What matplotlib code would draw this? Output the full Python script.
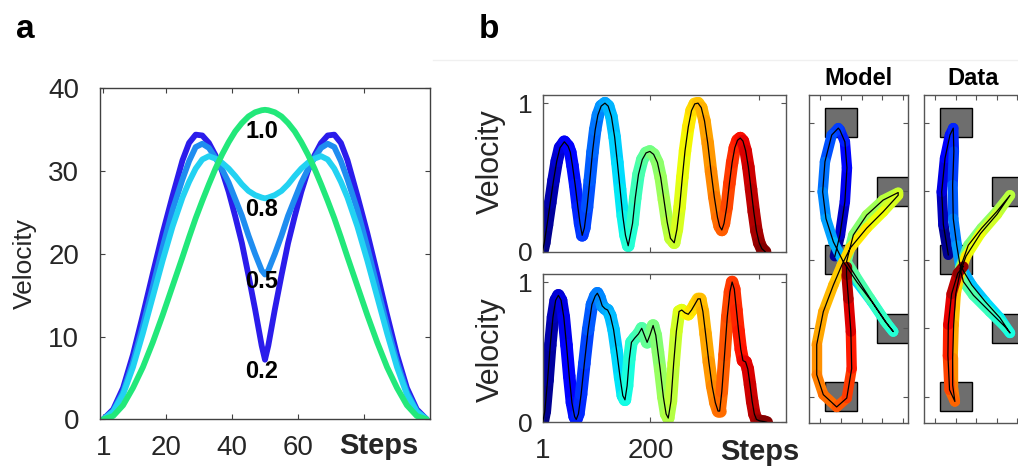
import numpy as np
import matplotlib
matplotlib.use("Agg")
import matplotlib.pyplot as plt
from matplotlib.collections import LineCollection
from matplotlib.patches import Rectangle
from matplotlib.lines import Line2D

plt.rcParams["font.family"] = ["Liberation Sans", "DejaVu Sans"]
TXT = "#262626"

# ---------------- panel a: velocity profiles for 4 parameter values ----------------
STEPS_A = [1, 4, 7, 10, 13, 16, 19, 22, 25, 27, 29, 31, 33, 35, 37, 39, 41, 43, 45, 47, 49, 50,
           51, 53, 55, 57, 59, 61, 63, 65, 67, 69, 71, 73, 75, 78, 81, 84, 87, 90, 93, 96, 99]
VEL_02 = [0, 1.2, 3.8, 7.8, 12.6, 17.6, 22.5, 27.0, 31.3, 33.4, 34.4, 34.3, 33.4, 31.9,
          30.0, 27.5, 24.5, 21.3, 17.4, 13.3, 8.9, 7.2,
          8.9, 13.3, 17.4, 21.3, 24.5, 27.5, 30.0, 31.9, 33.4, 34.3, 34.4, 33.4, 31.3,
          27.0, 22.5, 17.6, 12.6, 7.8, 3.8, 1.2, 0]
VEL_05 = [0, 1.0, 3.3, 6.9, 11.3, 16.0, 20.8, 25.3, 29.0, 31.2, 32.9, 33.3, 32.8, 31.6,
          30.2, 28.6, 26.6, 24.6, 22.2, 20.0, 18.0, 17.5,
          18.0, 20.0, 22.2, 24.6, 26.6, 28.6, 30.2, 31.6, 32.8, 33.3, 32.9, 31.2, 29.0,
          25.3, 20.8, 16.0, 11.3, 6.9, 3.3, 1.0, 0]
VEL_08 = [0, 0.9, 3.0, 6.3, 10.4, 14.8, 19.2, 23.3, 26.8, 28.7, 30.3, 31.4, 31.8, 31.5,
          31.0, 30.3, 29.4, 28.4, 27.6, 27.1, 26.8, 26.7,
          26.8, 27.1, 27.6, 28.4, 29.4, 30.3, 31.0, 31.5, 31.8, 31.4, 30.3, 28.7, 26.8,
          23.3, 19.2, 14.8, 10.4, 6.3, 3.0, 0.9, 0]
VEL_10 = [0, 0.4, 1.7, 3.8, 6.3, 9.3, 12.6, 16.1, 19.6, 22.0, 24.3, 26.4, 28.4, 30.3,
          32.0, 33.5, 34.8, 35.8, 36.6, 37.1, 37.35, 37.4,
          37.35, 37.1, 36.6, 35.8, 34.8, 33.5, 32.0, 30.3, 28.4, 26.4, 24.3, 22.0, 19.6,
          16.1, 12.6, 9.3, 6.3, 3.8, 1.7, 0.4, 0]
CURVES_A = [("0.2", VEL_02, "#2B1CEB", 5.75),
            ("0.5", VEL_05, "#1F8DF0", 16.6),
            ("0.8", VEL_08, "#22D2F2", 25.3),
            ("1.0", VEL_10, "#22E87A", 34.75)]

# ---------------- panel b: velocity profiles (model / data) ----------------
STEPS_MODEL = [1, 4, 9, 15, 21, 27, 33, 41, 48, 52, 56, 61, 66, 70, 74,
               78, 83, 88, 93, 98, 103, 109, 116, 122, 128, 134, 139, 144, 149, 154, 159,
               167, 172, 178, 185, 192, 199, 206, 213, 219, 225, 231, 237, 244,
               249, 254, 259, 264, 270, 276, 282, 288, 294, 300, 306, 312, 318, 324, 328, 332,
               336, 341, 346, 351, 356, 361, 366, 371, 376, 381, 386, 391, 396, 401, 406, 412]
VEL_MODEL = [0.01, 0.06, 0.18, 0.33, 0.48, 0.61, 0.70, 0.74, 0.71, 0.67, 0.58, 0.45, 0.30, 0.19, 0.11,
             0.16, 0.30, 0.48, 0.67, 0.82, 0.92, 0.98, 1.0, 0.98, 0.91, 0.77, 0.60, 0.42, 0.24, 0.11, 0.04,
             0.19, 0.36, 0.52, 0.62, 0.665, 0.675, 0.655, 0.60, 0.50, 0.35, 0.20, 0.09, 0.06,
             0.15, 0.30, 0.50, 0.68, 0.84, 0.95, 0.995, 1.0, 0.97, 0.88, 0.73, 0.54, 0.37, 0.23, 0.17, 0.146,
             0.19, 0.30, 0.46, 0.60, 0.70, 0.75, 0.765, 0.745, 0.68, 0.57, 0.42, 0.27, 0.14, 0.06, 0.02, 0.0]

STEPS_DATA = [1, 5, 10, 15, 20, 25, 30, 35, 40, 45, 50, 55, 60, 63,
              67, 72, 78, 85, 92, 98, 102, 106, 111, 116, 121, 126, 132, 138, 144, 149, 153,
              157, 161, 165, 171, 178, 184, 189, 194, 199, 205, 210, 214, 218, 224, 229, 233,
              238, 243, 248, 253, 258, 264, 270, 276, 282, 288, 292, 297, 302, 308, 314, 320, 325, 328,
              332, 337, 342, 347, 351, 355, 359, 363, 367, 371, 376, 380, 384, 388, 392, 396, 402, 410, 415]
VEL_DATA = [0.0, 0.08, 0.30, 0.55, 0.75, 0.87, 0.905, 0.87, 0.75, 0.55, 0.33, 0.14, 0.04, 0.02,
            0.06, 0.20, 0.42, 0.66, 0.84, 0.90, 0.92, 0.89, 0.83, 0.81, 0.80, 0.76, 0.66, 0.50, 0.32, 0.19, 0.16,
            0.26, 0.45, 0.57, 0.60, 0.63, 0.67, 0.62, 0.57, 0.62, 0.69, 0.62, 0.50, 0.38, 0.18, 0.06, 0.03,
            0.15, 0.42, 0.65, 0.79, 0.80, 0.78, 0.77, 0.80, 0.84, 0.88, 0.88, 0.79, 0.63, 0.43, 0.26, 0.14, 0.08, 0.08,
            0.22, 0.48, 0.75, 0.93, 1.0, 0.95, 0.80, 0.65, 0.52, 0.44, 0.43, 0.38, 0.27, 0.15, 0.06, 0.02, 0.01, 0.005, 0.0]

# ---------------- panel b: hand paths (model / data) ----------------
MODEL_X = [-0.30, -0.05, 0.19, 0.29, 0.19, -0.05, -0.13,
           -0.45, -0.78, -0.89, -0.73, -0.37, 0.11, 0.76, 1.49, 2.14, 2.54,
           2.23, 1.42, 0.69, 0.27, 0.60, 1.25, 2.05, 2.78,
           2.78, 2.05, 1.25, 0.45, 0.04, -0.37, -0.86, -1.18, -1.18, -0.86, -0.21,
           0.28, 0.52, 0.48, 0.36, 0.27, 0.27]
MODEL_Y = [2.05, 2.36, 2.85, 3.34, 3.72, 3.89, 3.92,
           3.82, 3.43, 2.99, 2.60, 2.26, 1.97, 1.68, 1.39, 1.10, 0.95,
           1.07, 1.43, 1.77, 1.97, 2.36, 2.65, 2.87, 2.98,
           2.94, 2.70, 2.46, 2.17, 1.92, 1.63, 1.24, 0.76, 0.32, 0.03, -0.15,
           -0.02, 0.41, 0.95, 1.43, 1.77, 1.90]
MODEL_T = [1, 20, 35, 48, 60, 70, 74,
           80, 92, 103, 113, 122, 130, 138, 146, 153, 159,
           166, 176, 186, 193, 205, 218, 232, 244,
           247, 258, 268, 277, 283, 290, 298, 307, 316, 324, 332,
           342, 355, 370, 385, 400, 412]

DATA_X = [-0.36, -0.60, -0.68, -0.52, -0.28, -0.12,
          -0.09, -0.15, -0.12, 0.05, 0.21, 0.78, 1.43, 2.15, 2.64,
          2.40, 1.66, 0.86, 0.37, 0.21, 0.61, 1.26, 1.99, 2.64,
          2.00, 1.20, 0.50, 0.20, 0.00, -0.10, -0.15, -0.15, -0.04,
          -0.30, -0.38, -0.36, -0.20, 0.10, 0.37]
DATA_Y = [2.07, 2.51, 2.99, 3.48, 3.82, 3.92,
          3.58, 3.09, 2.60, 2.21, 1.92, 1.63, 1.39, 1.15, 0.93,
          1.02, 1.24, 1.48, 1.68, 1.87, 2.21, 2.46, 2.70, 2.94,
          2.66, 2.38, 2.05, 1.80, 1.50, 1.05, 0.56, 0.17, -0.07,
          0.10, 0.60, 1.05, 1.50, 1.80, 1.90]
DATA_T = [1, 15, 30, 45, 56, 63,
          72, 85, 98, 110, 120, 130, 138, 146, 153,
          160, 170, 180, 188, 195, 204, 213, 223, 233,
          245, 258, 270, 280, 290, 300, 310, 320, 327,
          340, 355, 370, 385, 400, 415]

TARGET_X = [0.0, 2.53, 0.0, 2.53, 0.0]
TARGET_Y = [4, 3, 2, 1, 0]


def color_band(ax, x, y, t, lw):
    pts = np.column_stack([x, y])
    segs = np.stack([pts[:-1], pts[1:]], axis=1)
    t = np.asarray(t, dtype=float)
    lc = LineCollection(segs, cmap="jet", norm=plt.Normalize(t[0], t[-1]),
                        linewidths=lw, capstyle="round", joinstyle="round")
    lc.set_array(0.5 * (t[:-1] + t[1:]))
    ax.add_collection(lc)
    ax.plot(x, y, color="black", lw=0.9, zorder=3)


def style_box(ax, color):
    for s in ax.spines.values():
        s.set_color(color)
        s.set_linewidth(1.0)
    ax.tick_params(direction="in", top=True, right=True, length=3.5,
                   width=0.8, color=color, labelcolor=TXT)


fig = plt.figure(figsize=(10.18, 4.66), dpi=100)

# ---------- a ----------
ax = fig.add_axes([0.0982, 0.1002, 0.3242, 0.7103])
for lab, v, c, ty in CURVES_A:
    ax.plot(STEPS_A, v, color=c, lw=4.2, solid_capstyle="round",
            solid_joinstyle="round")
for lab, v, c, ty in CURVES_A:
    ax.text(49, ty, lab, fontsize=17, fontweight="bold", ha="center",
            va="center", color="black")
ax.set_xlim(0, 100)
ax.set_ylim(0, 40)
ax.set_xticks([1, 20, 40, 60, 80])
ax.set_xticklabels(["1", "20", "40", "60", ""])
ax.set_yticks([0, 10, 20, 30, 40])
style_box(ax, "#404040")
ax.tick_params(labelsize=20)
ax.tick_params(axis="x", pad=11)
ax.tick_params(axis="y", pad=15)
ax.set_ylabel("Velocity", fontsize=19, color=TXT)
ax.yaxis.set_label_coords(-0.19, 0.472)
ax.text(0.845, -0.081, "Steps", transform=ax.transAxes, fontsize=21,
        fontweight="bold", ha="center", va="center", color=TXT)

# ---------- b: velocity ----------
ax_top = fig.add_axes([0.5331, 0.4599, 0.2387, 0.3363])
ax_bot = fig.add_axes([0.5331, 0.0938, 0.2387, 0.3176])
for axv, st, vel, ly in [(ax_top, STEPS_MODEL, VEL_MODEL, 0.576),
                         (ax_bot, STEPS_DATA, VEL_DATA, 0.49)]:
    color_band(axv, st, vel, st, 9.0)
    axv.set_xlim(1, 450)
    axv.set_ylim(0, 1.055)
    axv.set_xticks([1, 200, 400])
    axv.set_yticks([0, 1])
    style_box(axv, "#555555")
    axv.tick_params(axis="y", labelsize=19, pad=7)
    axv.tick_params(axis="x", labelsize=20, pad=11)
    axv.set_ylabel("Velocity", fontsize=22, color=TXT)
    axv.yaxis.set_label_coords(-0.15, ly)
ax_top.set_xticklabels([])
ax_bot.set_xticklabels(["1", "200", ""])
ax_bot.text(0.894, -0.2, "Steps", transform=ax_bot.transAxes, fontsize=21,
            fontweight="bold", ha="center", va="center", color=TXT)

# ---------- b: paths ----------
for left, title, px, py, pt in [(0.795, "Model", MODEL_X, MODEL_Y, MODEL_T),
                                 (0.9077, "Data", DATA_X, DATA_Y, DATA_T)]:
    axp = fig.add_axes([left, 0.0923, 0.0972, 0.7039])
    for tx, ty in zip(TARGET_X, TARGET_Y):
        axp.add_patch(Rectangle((tx - 0.77, ty - 0.21), 1.54, 0.42,
                                facecolor="#6E6E6E", edgecolor="black", lw=1.0))
    color_band(axp, px, py, pt, 7.5)
    axp.set_xlim(-1.54, 3.27)
    axp.set_ylim(-0.384, 4.404)
    axp.set_xticks([-1, 0, 1, 2, 3])
    axp.set_yticks([0, 1, 2, 3, 4])
    axp.set_xticklabels([])
    axp.set_yticklabels([])
    style_box(axp, "#555555")
    axp.text(0.5, 1.049, title, transform=axp.transAxes, fontsize=17,
             fontweight="bold", ha="center", va="center", color="black")

# panel letters and faint frame line
fig.text(0.0157, 0.9185, "a", fontsize=24, fontweight="bold", va="baseline")
fig.text(0.4705, 0.9185, "b", fontsize=24, fontweight="bold", va="baseline")
fig.add_artist(Line2D([0.425, 1.0], [0.871, 0.871], transform=fig.transFigure,
                      color="#f0f0f0", lw=1))

fig.savefig("out.png", dpi=100)
